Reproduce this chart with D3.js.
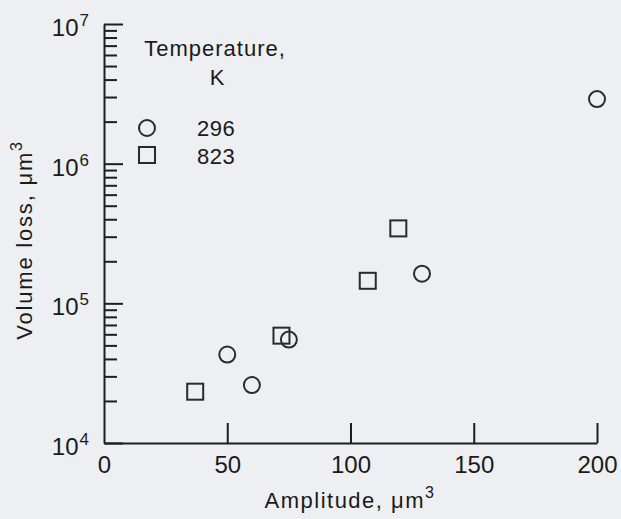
<!DOCTYPE html>
<html>
<head>
<meta charset="utf-8">
<script src="https://cdn.jsdelivr.net/npm/d3@7"></script>
<style>
  html, body { margin: 0; padding: 0; background: #edeff2; }
  svg { display: block; }
  text { font-family: "Liberation Sans", Arial, Helvetica, sans-serif; fill: #1a1a1a; }
</style>
</head>
<body>
<svg id="chart" width="621" height="519"></svg>
<script>
// ---- data ----
const xTickValues = [0, 50, 100, 150, 200];
const yTickExponents = [4, 5, 6, 7];
const series296Amplitude = [50, 60, 75, 129, 200];
const series296Loss = [43000, 26000, 55000, 163000, 2900000];
const series823Amplitude = [37, 72, 107, 119.4];
const series823Loss = [23300, 58700, 145000, 344000];
const legendTitle = ["Temperature,", "K"];
const legendLabels = ["296", "823"];
const xTitle = "Amplitude, μm";
const yTitle = "Volume loss, μm";

const svg = d3.select("#chart");
const ink = "#1e1e1e";

const x = d3.scaleLinear().domain([0, 200]).range([104, 597]);
const y = d3.scaleLog().domain([1e4, 1e7]).range([443, 24]);

// minor tick values
const minorVals = [];
for (let e = 4; e < 7; e++) for (let m = 2; m <= 9; m++) minorVals.push(m * Math.pow(10, e));

// y axis minor ticks
const gyMinor = svg.append("g").attr("transform", `translate(${x(0)},0)`)
  .call(d3.axisLeft(y).tickValues(minorVals).tickSizeInner(-13).tickSizeOuter(0).tickFormat(""));
gyMinor.select(".domain").remove();

// y axis major
const gy = svg.append("g").attr("transform", `translate(${x(0)},0)`)
  .call(d3.axisLeft(y).tickValues(yTickExponents.map(e => Math.pow(10, e)))
    .tickSizeInner(-19).tickSizeOuter(0).tickPadding(15).tickFormat(""));

gy.selectAll(".tick text").each(function(d) {
  const t = d3.select(this);
  t.attr("dy", null).attr("y", 11.5).attr("text-anchor", "end")
    .style("font-size", "24px").attr("fill", ink);
  t.append("tspan").text("10");
  t.append("tspan").text(String(Math.round(Math.log10(d))))
    .attr("dy", -10).attr("dx", 1).style("font-size", "17px");
});

// x axis
const gx = svg.append("g").attr("transform", `translate(0,${y(1e4)})`)
  .call(d3.axisBottom(x).tickValues(xTickValues).tickSizeInner(-20).tickSizeOuter(0).tickPadding(0));
gx.selectAll(".tick text").attr("y", 30).attr("dy", null)
  .style("font-size", "24px").attr("fill", ink);
gx.select(".tick").select("line").remove();

svg.selectAll(".domain, .tick line").attr("stroke", ink).attr("stroke-width", 2);

// axis titles
const xt = svg.append("text").attr("x", 350).attr("y", 508).attr("text-anchor", "middle")
  .style("font-size", "22px").attr("letter-spacing", "1.5px");
xt.append("tspan").text(xTitle);
xt.append("tspan").text("3").attr("dy", -10).style("font-size", "16px");

const yt = svg.append("text").attr("transform", "translate(32,240) rotate(-90)")
  .attr("text-anchor", "middle").style("font-size", "22px").attr("letter-spacing", "1.8px");
yt.append("tspan").text(yTitle);
yt.append("tspan").text("3").attr("dy", -10).style("font-size", "16px");

// markers
const r = 8;
svg.append("g").selectAll("circle")
  .data(series296Amplitude.map((a, i) => [a, series296Loss[i]]))
  .join("circle")
  .attr("cx", d => x(d[0])).attr("cy", d => y(d[1])).attr("r", r)
  .attr("fill", "none").attr("stroke", "#2a2a2a").attr("stroke-width", 2);

const s = 16;
svg.append("g").selectAll("rect")
  .data(series823Amplitude.map((a, i) => [a, series823Loss[i]]))
  .join("rect")
  .attr("x", d => x(d[0]) - s / 2).attr("y", d => y(d[1]) - s / 2)
  .attr("width", s).attr("height", s)
  .attr("fill", "none").attr("stroke", "#2a2a2a").attr("stroke-width", 2);

// legend
svg.append("text").attr("x", 215).attr("y", 56).attr("text-anchor", "middle")
  .style("font-size", "22px").attr("letter-spacing", "1px").text(legendTitle[0]);
svg.append("text").attr("x", 217).attr("y", 85).attr("text-anchor", "middle")
  .style("font-size", "22px").text(legendTitle[1]);
svg.append("circle").attr("cx", 147).attr("cy", 128).attr("r", r)
  .attr("fill", "none").attr("stroke", "#2a2a2a").attr("stroke-width", 2);
svg.append("rect").attr("x", 147 - s / 2).attr("y", 155 - s / 2).attr("width", s).attr("height", s)
  .attr("fill", "none").attr("stroke", "#2a2a2a").attr("stroke-width", 2);
svg.append("text").attr("x", 197).attr("y", 136).style("font-size", "22px")
  .attr("letter-spacing", "0.5px").text(legendLabels[0]);
svg.append("text").attr("x", 197).attr("y", 164).style("font-size", "22px")
  .attr("letter-spacing", "0.5px").text(legendLabels[1]);
</script>
</body>
</html>
